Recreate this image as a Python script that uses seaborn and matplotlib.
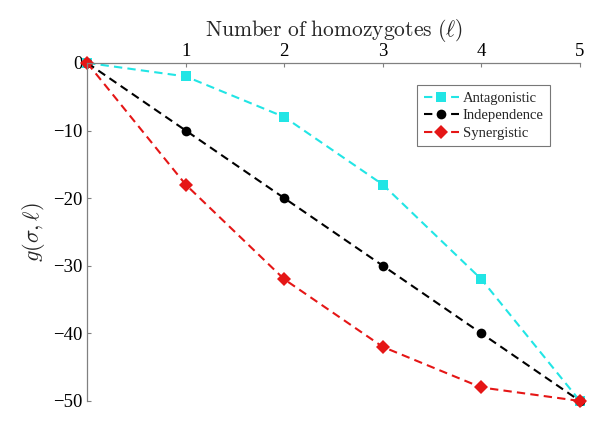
import pandas as pd
import matplotlib.pyplot as plt
import seaborn as sns

# Fitness values g(sigma, l)
homozygotes = [0, 1, 2, 3, 4, 5]
antagonistic = [0, -2, -8, -18, -32, -50]
independence = [0, -10, -20, -30, -40, -50]
synergistic = [0, -18, -32, -42, -48, -50]
x_tick_labels = ["", "1", "2", "3", "4", "5"]
y_ticks = [-50, -40, -30, -20, -10, 0]

series_names = ["Antagonistic", "Independence", "Synergistic"]
colors = {"Antagonistic": "#22e5e5", "Independence": "black", "Synergistic": "#e51616"}
markers = {"Antagonistic": "s", "Independence": "o", "Synergistic": "D"}

df = pd.DataFrame({
    "l": homozygotes * 3,
    "g": antagonistic + independence + synergistic,
    "epistasis": [n for n in series_names for _ in homozygotes],
})

sns.set_theme(style="white")
plt.rcParams["font.family"] = ["Liberation Serif", "DejaVu Serif"]
plt.rcParams["mathtext.fontset"] = "cm"

fig = plt.figure(figsize=(6.01, 4.25), dpi=100)
ax = fig.add_axes([0.145, 0.0565, 0.82, 0.7955])

ax = sns.lineplot(
    data=df, x="l", y="g", hue="epistasis", style="epistasis",
    palette=colors, markers=markers, dashes={n: (4, 2.5) for n in series_names},
    linewidth=1.5, markersize=7, markeredgewidth=0, ax=ax, clip_on=False,
)

ax.set_xlim(0, 5)
ax.set_ylim(-50, 0)
ax.set_xticks(homozygotes)
ax.set_xticklabels(x_tick_labels)
ax.set_yticks(y_ticks)
ax.xaxis.tick_top()
ax.xaxis.set_label_position("top")
ax.tick_params(axis="both", labelsize=13.5, colors="black", direction="in",
               length=3, width=0.8)
ax.tick_params(axis="x", pad=2, top=True, bottom=False, color="#808080")
ax.tick_params(axis="y", left=True, color="#808080")

for side in ["bottom", "right"]:
    ax.spines[side].set_visible(False)
for side in ["top", "left"]:
    ax.spines[side].set_color("#808080")
    ax.spines[side].set_linewidth(0.9)

ax.set_xlabel(r"$\mathrm{Number\ of\ homozygotes}\ (\ell)$", fontsize=15.5, labelpad=5)
ax.set_ylabel(r"$g(\sigma,\ell)$", fontsize=16, labelpad=4)

leg = ax.legend(loc="upper right", bbox_to_anchor=(0.94, 0.935), fontsize=10.5,
                frameon=True, fancybox=False, handlelength=2.4, borderaxespad=0,
                borderpad=0.45, labelspacing=0.3, handletextpad=0.3)
leg.get_frame().set_edgecolor("#555555")
leg.get_frame().set_linewidth(0.8)

fig.savefig("out.png", dpi=100)
